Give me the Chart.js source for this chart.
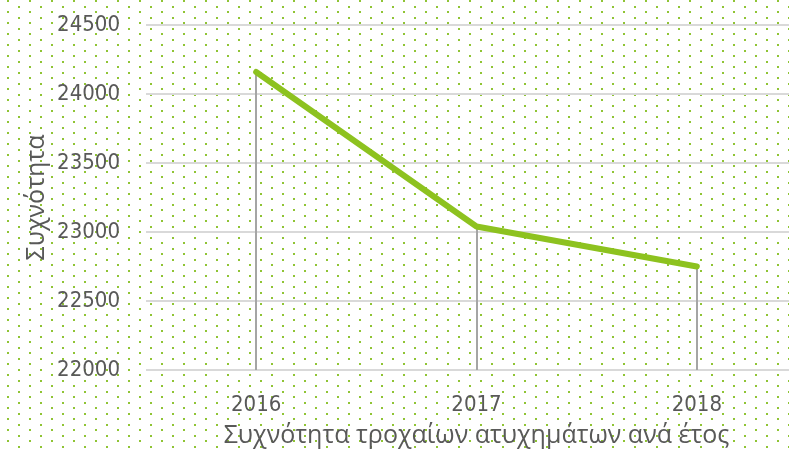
<!DOCTYPE html>
<html>
<head>
<meta charset="utf-8">
<script src="https://cdn.jsdelivr.net/npm/chart.js@4.4.1/dist/chart.umd.min.js"></script>
<style>
html,body{margin:0;padding:0;overflow:hidden;background:#fff;}
#wrap{width:830px;height:449px;}
</style>
</head>
<body>
<div id="wrap"><canvas id="chart-freq" width="830" height="449"></canvas></div>
<script>
// data
var years = ['2016', '2017', '2018'];
var accidents = [24160, 23040, 22750];
var yTicks = [22000, 22500, 23000, 23500, 24000, 24500];
var yTitle = 'Συχνότητα';
var xTitle = 'Συχνότητα τροχαίων ατυχημάτων ανά έτος';

var textColor = '#595959';
var tickFont = "'Liberation Sans Narrow', 'DejaVu Sans Condensed', 'Liberation Sans', sans-serif";
var titleFont = "'Open Sans', sans-serif";

// small tile with the two green dots
function makeDots() {
  var c = document.createElement('canvas');
  c.width = 22; c.height = 11;
  var g = c.getContext('2d');
  g.fillStyle = '#8fc434';
  g.fillRect(7, 0, 2, 2);
  g.fillRect(18, 6, 2, 2);
  return c;
}

var dotsBg = {
  id: 'dotsBg',
  beforeDraw: function (chart) {
    var ctx = chart.ctx;
    ctx.save();
    ctx.fillStyle = '#ffffff';
    ctx.fillRect(0, 0, chart.width, chart.height);
    ctx.fillStyle = ctx.createPattern(makeDots(), 'repeat');
    ctx.fillRect(0, 0, chart.width, chart.height);
    ctx.restore();
  }
};

// grey vertical lines from each point down to the axis
var dropLines = {
  id: 'dropLines',
  beforeDatasetsDraw: function (chart) {
    var ctx = chart.ctx;
    var yScale = chart.scales.y;
    var meta = chart.getDatasetMeta(0);
    ctx.save();
    ctx.strokeStyle = '#a5a5a5';
    ctx.lineWidth = 2;
    meta.data.forEach(function (pt) {
      var x = Math.round(pt.x);
      ctx.beginPath();
      ctx.moveTo(x, pt.y);
      ctx.lineTo(x, yScale.getPixelForValue(yTicks[0]));
      ctx.stroke();
    });
    ctx.restore();
  }
};

var config = {
  type: 'line',
  data: {
    labels: years,
    datasets: [{
      data: accidents,
      borderColor: '#8dc21f',
      borderWidth: 6,
      borderCapStyle: 'round',
      borderJoinStyle: 'round',
      pointRadius: 0,
      tension: 0,
      fill: false
    }]
  },
  options: {
    responsive: false,
    animation: false,
    layout: { padding: { top: 25, right: 23, bottom: 0, left: 0 } },
    plugins: { legend: { display: false }, tooltip: { enabled: false } },
    scales: {
      x: {
        offset: true,
        grid: { display: false },
        border: { display: false },
        ticks: { color: textColor, font: { family: tickFont, size: 22 }, padding: 14 },
        title: {
          display: true, text: xTitle, color: textColor,
          font: { family: titleFont, size: 25, lineHeight: 1 },
          padding: { top: 0, bottom: 1 }
        },
        afterFit: function (s) { s.height = 79; }
      },
      y: {
        min: yTicks[0],
        max: yTicks[yTicks.length - 1],
        grid: { color: '#d9d9d9', lineWidth: 2, drawTicks: false },
        border: { display: false },
        ticks: {
          stepSize: yTicks[1] - yTicks[0],
          color: textColor,
          font: { family: tickFont, size: 22 },
          padding: 26,
          callback: function (v) { return String(v); }
        },
        title: {
          display: true, text: yTitle, color: textColor,
          font: { family: titleFont, size: 25, lineHeight: 1.2 },
          padding: { top: 22, bottom: 0 }
        },
        afterFit: function (s) {
          s.width = 146;
          // the tick padding would otherwise push the plot down
          s.paddingTop = 0;
          s.paddingBottom = 0;
        }
      }
    }
  },
  plugins: [dotsBg, dropLines]
};

var ctx = document.getElementById('chart-freq').getContext('2d');
window.freqChart = new Chart(ctx, config);
</script>
</body>
</html>
